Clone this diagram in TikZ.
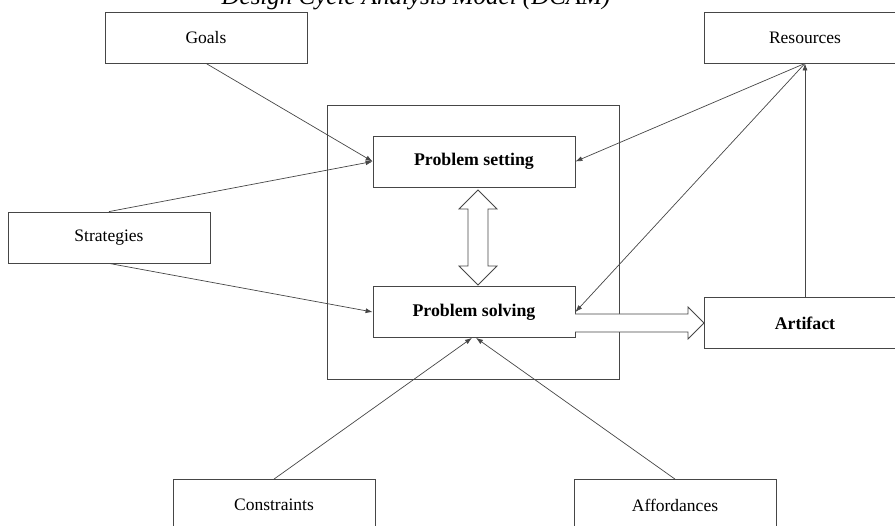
\documentclass[tikz,border=0pt]{standalone}
\usepackage{fontspec}
\setmainfont{Liberation Serif}
\usetikzlibrary{arrows.meta}
\definecolor{linegray}{RGB}{70,70,70}

\begin{document}
\begin{tikzpicture}[x=1pt,y=-1pt,
    box/.style={draw=linegray, line width=0.8pt, minimum width=202pt, minimum height=51pt, inner sep=0pt, font=\fontsize{17.5}{20}\selectfont},
    stage/.style={box, font=\fontsize{17.8}{20}\selectfont\bfseries},
    link/.style={draw=linegray, line width=0.7pt, -{Latex[length=7pt,width=5pt]}},
    fat/.style={draw=linegray, line width=0.8pt, fill=white}]
            \clip (0,0) rectangle (895,526);
            \node[font=\itshape\fontsize{25}{28}\selectfont, anchor=base] (title) at (416,5) {Design Cycle Analysis Model (DCAM)};
            % outer frame
            \node[draw=linegray, line width=0.8pt, minimum width=292pt, minimum height=274pt] (core) at (473,242) {};
            \node[box] (goals) at (206,37.5) {Goals};
            \node[box] (strat) at (109,237.5) {Strategies};
            \node[box] (res) at (805,37.5) {Resources};
            \node[stage] (set) at (474,161.5) {Problem setting};
            \node[stage] (solve) at (474,312) {Problem solving};
            \node[stage] (artifact) at (805,323) {Artifact};
            \node[box] (constr) at (274,505) {Constraints};
            \node[box] (afford) at (675,505) {Affordances};
            \draw[link] (goals.south) -- (set.west);
            \draw[link] (strat.north) -- (set.west);
            \draw[link] (strat.south) -- (solve.west);
            \draw[link] (res.south) -- (set.east);
            \draw[link] (res.south) -- (solve.east);
            \draw[link] (artifact.north) -- (res.south);
            \draw[link] (constr.north) -- ([xshift=-2pt]solve.south);
            \draw[link] (afford.north) -- ([xshift=2pt]solve.south);
            % hollow arrows
            \draw[fat] (478,190) -- (497,209) -- (488,209) -- (488,266) -- (497,266) -- (478,285) -- (459,266) -- (468,266) -- (468,209) -- (459,209) -- cycle;
            \draw[fat] (575,314) -- (688,314) -- (688,307) -- (704,323) -- (688,339) -- (688,332) -- (575,332);
        \end{tikzpicture}
\end{document}
